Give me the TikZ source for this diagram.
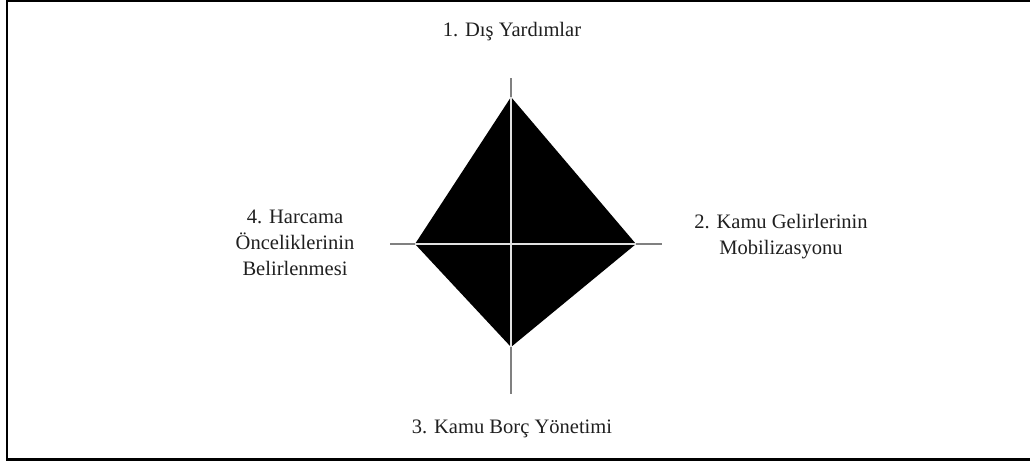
\documentclass[tikz,border=0pt]{standalone}
\usepackage{fontspec}
\setmainfont{Liberation Serif}
\usetikzlibrary{positioning}

\begin{document}
\begin{tikzpicture}[
      x=0.75pt, y=-0.75pt,
      lbl/.style={font=\fontsize{15.4}{19.5}\selectfont, align=center, inner sep=0pt, text=black!88},
      axis/.style={draw=black!50, line width=1.1pt},
      cross/.style={draw=black!12, line width=0.9pt}
    ]
      \useasboundingbox (0,0) rectangle (1030,461);
      \draw[line width=1.7pt] (1032,1.2) -- (7,1.2) -- (7,459.5) -- (1032,459.5);
      % corners of the diamond and ends of the axes
      \coordinate (top) at (511,97);
      \coordinate (right) at (636,244);
      \coordinate (bot) at (511,347);
      \coordinate (left) at (415,244);
      \coordinate (axtop) at (511,78);
      \coordinate (axright) at (662,244);
      \coordinate (axbot) at (511,394);
      \coordinate (axleft) at (390,244);
      \fill[black] (top) -- (right) -- (bot) -- (left) -- cycle;
      \draw[axis] (axtop) -- (top);
      \draw[axis] (bot) -- (axbot);
      \draw[axis] (axleft) -- (left);
      \draw[axis] (right) -- (axright);
      \draw[cross] (top) -- (bot);
      \draw[cross] (left) -- (right);
      \node[lbl] (dis) at (512,32) {1. Dış Yardımlar};
      \node[lbl] (gelir) at (781,237) {2. Kamu Gelirlerinin\\Mobilizasyonu};
      \node[lbl] (borc) at (512,429) {3. Kamu Borç Yönetimi};
      \node[lbl] (harcama) at (295,243) {4. Harcama\\Önceliklerinin\\Belirlenmesi};
    \end{tikzpicture}
\end{document}
